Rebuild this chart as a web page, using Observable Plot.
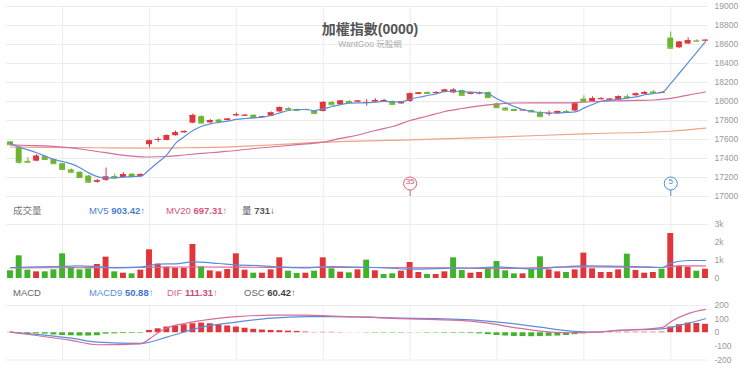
<!DOCTYPE html>
<html><head><meta charset="utf-8">
<script src="https://cdn.jsdelivr.net/npm/d3@7"></script>
<script src="https://cdn.jsdelivr.net/npm/@observablehq/plot@0.6"></script>
<style>
body{margin:0;background:#fff;}
#wrap{position:relative;width:740px;height:365px;overflow:hidden;font-family:Arial,"Liberation Sans","Noto Sans CJK TC",sans-serif;}
#wrap svg{position:absolute;left:0;top:0;overflow:visible;}
.hdr{position:absolute;font-size:9.5px;white-space:nowrap;line-height:12px;}
.hdr b{font-weight:bold;}
</style></head><body><div id="wrap"></div>
<script>
// ---- data ----
const opens  = [17575,17520,17370,17372,17420,17390,17345,17280,17255,17215,17150,17170,17210,17200,17235,17210,17545,17590,17590,17640,17670,17772,17840,17775,17805,17800,17850,17850,17855,17835,17845,17890,17925,17915,17905,17900,17895,17990,17965,18000,17995,17985,17995,18000,18000,17975,18000,18075,18095,18085,18095,18090,18115,18075,18080,18095,17975,17930,17915,17905,17905,17880,17870,17870,17895,17900,18025,18000,18020,18015,18015,18050,18060,18075,18100,18090,18667,18565,18605,18640,18640];
const highs  = [17580,17525,17410,17440,17430,17395,17350,17290,17260,17220,17180,17300,17235,17250,17240,17240,17595,17620,17650,17690,17690,17870,17850,17810,17815,17820,17880,17865,17860,17845,17890,17945,17935,17920,17920,17905,18000,18000,18010,18010,18010,18020,18030,18025,18005,18000,18090,18095,18100,18105,18130,18135,18120,18100,18100,18100,17985,17935,17920,17915,17910,17895,17900,17900,17905,17985,18060,18050,18040,18030,18060,18070,18090,18105,18115,18105,18730,18630,18670,18650,18650];
const lows   = [17540,17340,17355,17365,17385,17340,17280,17245,17195,17145,17140,17160,17190,17195,17205,17205,17510,17570,17585,17635,17665,17765,17768,17770,17785,17795,17840,17845,17825,17825,17840,17885,17910,17900,17905,17865,17890,17960,17960,17985,17990,17950,17985,17995,17965,17970,17990,18070,18080,18080,18090,18085,18060,18070,18070,18035,17930,17905,17895,17900,17885,17835,17845,17865,17880,17895,17990,17995,18015,18010,18010,18020,18055,18070,18090,18085,18555,18560,18600,18630,18635];
const closes = [17545,17360,17360,17424,17390,17345,17285,17255,17200,17150,17165,17205,17195,17230,17210,17230,17585,17600,17640,17670,17685,17853,17772,17800,17790,17815,17860,17855,17830,17840,17880,17935,17915,17905,17915,17875,17990,17965,18005,17990,18005,17990,18010,18010,17970,17995,18080,18090,18085,18095,18120,18120,18065,18090,18090,18040,17935,17910,17905,17910,17890,17840,17875,17895,17885,17975,17995,18030,18030,18025,18050,18040,18080,18095,18095,18095,18561,18625,18640,18635,18645];
const ma5 = [17561,17519,17491,17460,17424,17389,17368,17344,17302,17249,17210,17197,17197,17203,17210,17214,17284,17361,17439,17560,17630,17695,17740,17765,17780,17793,17811,17821,17828,17835,17853,17881,17905,17916,17916,17905,17923,17947,17968,17982,17986,17986,17993,18000,17997,17997,18024,18045,18063,18081,18105,18108,18105,18098,18095,18081,18028,17986,17947,17913,17895,17884,17879,17879,17884,17890,17930,17968,18003,18014,18024,18035,18049,18071,18084,18095,18190,18300,18410,18520,18630];
const ma20Idx = [0,2,4,6,8,10,12,14,16,18,20,22,24,26,28,30,32,34,36,38,40,42,44,46,48,50,52,54,56,58,60,62,64,66,68,70,72,74,76,78,80];
const ma20 = [17544,17537,17532,17519,17500,17474,17447,17426,17416,17421,17437,17453,17468,17484,17505,17521,17537,17553,17572,17611,17647,17695,17737,17800,17847,17895,17926,17953,17972,17984,17986,17986,17986,17995,18002,18007,18011,18016,18032,18068,18100];
const ma60Idx = [0,10,16,20,26,30,36,46,56,66,76,80];
const ma60 = [17521,17513,17510,17513,17526,17542,17572,17597,17626,17660,17687,17719];
const volume = [428,1261,463,370,370,481,1372,611,481,537,778,1187,370,296,259,463,1594,796,630,574,574,1890,648,426,370,500,1372,463,296,296,481,1150,407,278,296,407,1150,537,352,315,481,1019,428,222,259,407,889,333,222,222,370,1150,444,296,333,500,944,428,259,259,518,1205,481,370,333,481,1409,537,333,333,481,1352,444,296,333,518,2500,685,630,407,518];
const volDir = [0,0,0,1,0,0,0,0,0,0,1,1,0,1,0,1,1,1,1,1,1,1,0,1,1,1,1,1,0,1,1,1,0,0,1,0,1,0,1,0,1,0,1,0,0,1,1,1,0,1,1,0,0,1,1,0,0,0,0,1,0,0,1,1,0,1,1,1,1,1,1,0,1,1,1,0,1,1,1,0,1];
const mv5Idx = [0,3,6,8,10,12,15,17,19,21,24,26,29,31,34,37,40,42,46,51,54,56,60,63,66,72,75,76,78,80];
const mv5 = [611,650,667,706,660,594,628,800,817,928,834,761,706,628,594,667,628,611,522,578,594,650,522,628,706,667,611,856,1000,1000];
const mv20Idx = [0,10,20,30,41,50,56,66,75,77,80];
const mv20 = [594,600,640,620,611,590,560,650,611,700,700];
const osc = [3,-4,-6,-8,-10,-16,-20,-22,-24,-24,-22,-10,-8,-6,-5,-4,17,29,42,49,59,66,71,66,58,50,42,33,25,20,17,15,12,10,5,2,3,3,2,1,-1,-2,-3,-3,-3,-3,-2,-2,-3,-3,-4,-4,-4,-5,-8,-14,-20,-24,-27,-28,-29,-28,-26,-24,-20,-14,-8,-3,2,3,4,4,4,4,4,5,42,59,71,68,62];
const difIdx = [0,3,7,10,15,16,17,18,20,22,26,30,34,37,41,45,49,53,55,58,61,64,67,70,75,76,78,80];
const dif = [4,-20,-56,-88,-81,-45,0,35,68,90,118,129,129,122,114,103,97,85,70,38,12,0,4,17,38,80,140,171];
const macd9Idx = [0,3,7,10,15,18,22,26,30,34,37,41,45,49,53,57,61,64,67,70,75,78,80];
const macd9 = [4,-12,-40,-69,-78,-32,41,78,107,119,119,114,107,103,95,73,41,15,4,17,29,70,103];
const priceTicks = [17000,17200,17400,17600,17800,18000,18200,18400,18600,18800,19000];
const volTicks = [0,1000,2000,3000];
const volTickLabels = ["0","1k","2k","3k"];
const macdTicks = [-200,-100,0,100,200];
const macdTickLabels = ["-200","-100","0","100","200"];
const gridIdx = [6,16,26,36,46,56,66,76];
const markerIdx = [46,76];
const markerLabels = ["35","5"];
const title = "加權指數(0000)";
const subtitle = "WantGoo 玩股網";

// ---- build ----
const RED = "#e2353b", GREEN = "#6cb52c", VGREEN = "#3fb32a";
const BLUE = "#5b8ed8", PINK = "#d56c9c", ORANGE = "#eda482", GRID = "#ececec";
const candles = opens.map((o, i) => ({i, o, h: highs[i], l: lows[i], c: closes[i]}));
const col = d => d.c >= d.o ? RED : GREEN;
const pts = (ix, vs) => ix.map((i, k) => ({i, v: vs[k]}));
const X = {type: "linear", domain: [0, 80], range: [10, 705], axis: null};
const hw = 0.34;
const common = {width: 740, height: 365, marginLeft: 6, marginRight: 32, style: {fontFamily: "Arial, 'Liberation Sans', sans-serif", fontSize: "8.5px", color: "#999", background: "transparent"}};
const axisOpts = {axis: "right", tickSize: 0, tickPadding: 6, label: null};

const price = Plot.plot({
  ...common, marginTop: 6, marginBottom: 169,
  x: X,
  y: {domain: [17000, 19000], ticks: priceTicks, tickFormat: d => String(d), ...axisOpts},
  marks: [
    Plot.ruleY(priceTicks, {stroke: GRID}),
    Plot.ruleX(gridIdx, {stroke: GRID}),
    Plot.ruleX(candles, {x: "i", y1: "l", y2: "h", stroke: col}),
    Plot.rect(candles, {x1: d => d.i - hw, x2: d => d.i + hw, y1: "o", y2: "c", fill: col}),
    Plot.ruleY(candles, {y: "c", x1: d => d.i - hw, x2: d => d.i + hw, stroke: col}),
    Plot.line(pts(ma60Idx, ma60), {x: "i", y: "v", stroke: ORANGE, strokeWidth: 1.2, curve: "monotone-x"}),
    Plot.line(pts(ma20Idx, ma20), {x: "i", y: "v", stroke: PINK, strokeWidth: 1.2, curve: "monotone-x"}),
    Plot.line(pts(d3.range(ma5.length), ma5), {x: "i", y: "v", stroke: BLUE, strokeWidth: 1.2, curve: "monotone-x"}),
    Plot.ruleX(markerIdx, {stroke: (d, k) => k === 0 ? "#e0607e" : "#4f8fd9", insetTop: 184}),
    Plot.dot(markerIdx, {x: d => d, frameAnchor: "bottom", dy: -13, r: 6.5, fill: "white", stroke: (d, k) => k === 0 ? "#e0607e" : "#4f8fd9", strokeWidth: 1}),
    Plot.text(markerIdx, {x: d => d, frameAnchor: "bottom", dy: -13, text: (d, k) => markerLabels[k], fill: (d, k) => k === 0 ? "#d9506f" : "#4a86d4", fontSize: 8})
  ]
});

const vol = Plot.plot({
  ...common, marginTop: 224, marginBottom: 87,
  x: X,
  y: {domain: [0, 3000], ticks: volTicks, tickFormat: (d, k) => volTickLabels[k], ...axisOpts},
  marks: [
    Plot.ruleY([3000], {stroke: GRID}),
    Plot.ruleX(gridIdx, {stroke: GRID, insetTop: -28}),
    Plot.rectY(volume.map((v, i) => ({i, v})), {x1: d => d.i - hw, x2: d => d.i + hw, y: "v", fill: d => volDir[d.i] ? RED : VGREEN}),
    Plot.line(pts(mv20Idx, mv20), {x: "i", y: "v", stroke: PINK, strokeWidth: 1.2, curve: "monotone-x"}),
    Plot.line(pts(mv5Idx, mv5), {x: "i", y: "v", stroke: BLUE, strokeWidth: 1.2, curve: "monotone-x"})
  ]
});

const macd = Plot.plot({
  ...common, marginTop: 305, marginBottom: 5.5,
  x: X,
  y: {domain: [-200, 200], ticks: macdTicks, tickFormat: (d, k) => macdTickLabels[k], ...axisOpts},
  marks: [
    Plot.ruleY([200, -200], {stroke: GRID}),
    Plot.ruleX(gridIdx, {stroke: GRID}),
    Plot.rectY(osc.map((v, i) => ({i, v})), {x1: d => d.i - hw, x2: d => d.i + hw, y: "v", fill: d => d.v >= 0 ? RED : VGREEN}),
    Plot.line(pts(macd9Idx, macd9), {x: "i", y: "v", stroke: BLUE, strokeWidth: 1.2, curve: "monotone-x"}),
    Plot.line(pts(difIdx, dif), {x: "i", y: "v", stroke: PINK, strokeWidth: 1.2, curve: "monotone-x"})
  ]
});

const wrap = document.getElementById("wrap");
wrap.append(price, vol, macd);

function addHtml(html, css, cls) {
  const d = document.createElement("div");
  if (cls) d.className = cls;
  d.innerHTML = html;
  Object.assign(d.style, css);
  d.style.position = "absolute";
  wrap.append(d);
}
addHtml(title, {left: "0px", width: "740px", textAlign: "center", top: "18px", fontSize: "14px", color: "#555", fontWeight: "bold"});
addHtml(subtitle, {left: "0px", width: "740px", textAlign: "center", top: "37px", fontSize: "8.5px", color: "#aaa"});
addHtml("成交量", {left: "13px", top: "205px", color: "#777"}, "hdr");
addHtml('<span style="color:#4b7fd2">MV5 <b>903.42</b>↑</span>', {left: "89px", top: "205px"}, "hdr");
addHtml('<span style="color:#d9537f">MV20 <b>697.31</b>↑</span>', {left: "166px", top: "205px"}, "hdr");
addHtml('<span style="color:#555">量 <b>731</b>↓</span>', {left: "242px", top: "205px"}, "hdr");
addHtml("MACD", {left: "13px", top: "287px", color: "#666"}, "hdr");
addHtml('<span style="color:#5b8ed8">MACD9 <b style="color:#3f73c8">50.88</b>↑</span>', {left: "89px", top: "287px"}, "hdr");
addHtml('<span style="color:#d56c9c">DIF <b style="color:#c94a7e">111.31</b>↑</span>', {left: "167px", top: "287px"}, "hdr");
addHtml('<span style="color:#666">OSC <b style="color:#444">60.42</b>↑</span>', {left: "244px", top: "287px"}, "hdr");
</script></body></html>
